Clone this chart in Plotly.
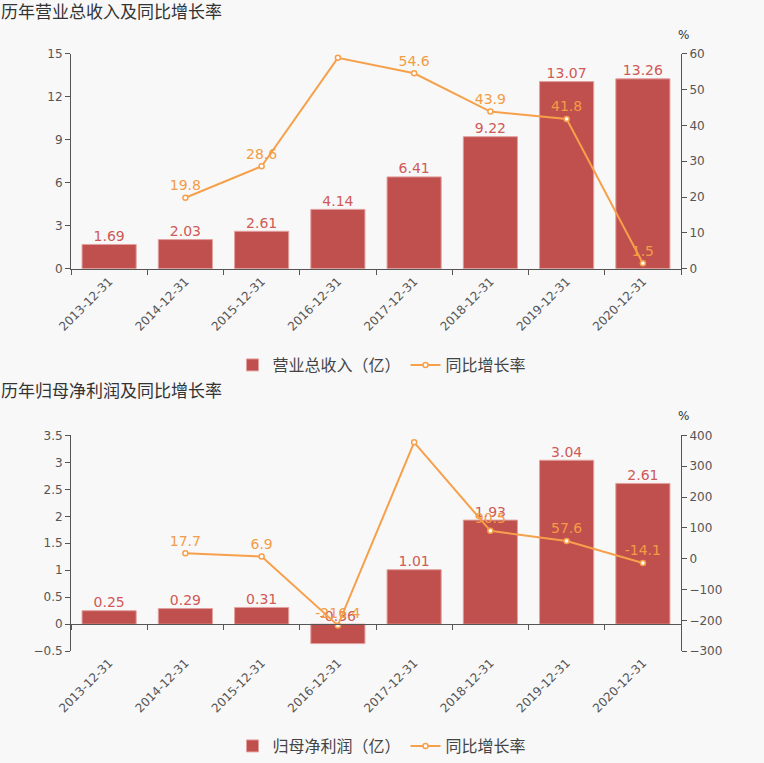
import plotly.graph_objects as go
from plotly.subplots import make_subplots

categories = ["2013-12-31", "2014-12-31", "2015-12-31", "2016-12-31",
              "2017-12-31", "2018-12-31", "2019-12-31", "2020-12-31"]
revenue = [1.69, 2.03, 2.61, 4.14, 6.41, 9.22, 13.07, 13.26]
revenue_growth = [None, 19.8, 28.6, 58.9, 54.6, 43.9, 41.8, 1.5]
profit = [0.25, 0.29, 0.31, -0.36, 1.01, 1.93, 3.04, 2.61]
profit_growth = [None, 17.7, 6.9, -216.4, 377.6, 90.5, 57.6, -14.1]

BAR = "#c0504d"
BAR_TXT = "#cf5a56"
LINE = "#f7a04b"
LINE_TXT = "#f39c45"
BG = "#f8f8f8"
AX = "#555555"
FONT = "DejaVu Sans, Noto Sans CJK SC, sans-serif"

W, H = 764, 763

def py(px):
    return 1 - px / H

fig = make_subplots(rows=2, cols=1, specs=[[{"secondary_y": True}], [{"secondary_y": True}]])

def fmt(v):
    return f"{v:.2f}"

def fmtg(v):
    return "" if v is None else f"{v:.1f}"

def add_block(row, bars, growth, bar_name, legend):
    fig.add_trace(go.Bar(x=categories, y=bars, name=bar_name,
                         marker=dict(color=BAR, line=dict(color="#e2a09e", width=1)),
                         legend=legend, hoverinfo="skip"), row=row, col=1, secondary_y=False)
    fig.add_trace(go.Scatter(x=categories, y=[max(v, 0) for v in bars], mode="text",
                             text=[fmt(v) for v in bars], textposition="top center",
                             textfont=dict(color=BAR_TXT, size=14, family=FONT),
                             showlegend=False, hoverinfo="skip"), row=row, col=1, secondary_y=False)
    fig.add_trace(go.Scatter(x=categories, y=growth, name="同比增长率", mode="lines+markers+text",
                             line=dict(color=LINE, width=2),
                             marker=dict(symbol="circle", size=5, color="white", line=dict(color=LINE, width=1.5)),
                             text=[fmtg(v) for v in growth], textposition="top center",
                             textfont=dict(color=LINE_TXT, size=14, family=FONT),
                             legend=legend, hoverinfo="skip"), row=row, col=1, secondary_y=True)

add_block(1, revenue, revenue_growth, "营业总收入（亿）", "legend")
add_block(2, profit, profit_growth, "归母净利润（亿）", "legend2")

xdom = [71 / W, 681 / W]
axis_common = dict(showgrid=False, zeroline=False, showline=True, linecolor=AX, linewidth=1,
                   ticks="outside", ticklen=5, tickcolor=AX, automargin=False,
                   tickfont=dict(color=AX, size=12, family=FONT))

fig.update_layout(
    width=W, height=H, margin=dict(l=0, r=0, t=0, b=0),
    paper_bgcolor=BG, plot_bgcolor=BG, bargap=0.29,
    font=dict(family=FONT, color="#333"),
    xaxis=dict(domain=xdom, type="category", tickson="boundaries", tickangle=-45, **axis_common),
    xaxis2=dict(domain=xdom, type="category", tickson="boundaries", tickangle=-45,
                anchor="free", position=py(625), ticklabelstandoff=26, **axis_common),
    yaxis=dict(domain=[py(269), py(54)], range=[0, 15], dtick=3, **axis_common),
    yaxis2=dict(range=[0, 60], dtick=10, **axis_common),
    yaxis3=dict(domain=[py(652), py(436)], range=[-0.5, 3.5], dtick=0.5, **axis_common),
    yaxis4=dict(range=[-300, 400], dtick=100, **axis_common),
    legend=dict(orientation="h", x=0.5, xanchor="center", y=py(365), yanchor="middle",
                bgcolor="rgba(0,0,0,0)", itemwidth=30, font=dict(size=16, color="#444", family=FONT)),
    legend2=dict(orientation="h", x=0.5, xanchor="center", y=py(747), yanchor="middle",
                 bgcolor="rgba(0,0,0,0)", itemwidth=30, font=dict(size=16, color="#444", family=FONT)),
)

titles = [("历年营业总收入及同比增长率", 12), ("历年归母净利润及同比增长率", 392)]
for t, y in titles:
    fig.add_annotation(text=t, x=0, xref="paper", xanchor="left", y=py(y), yref="paper", yanchor="middle",
                       showarrow=False, borderpad=0, font=dict(size=17, color="#333", family=FONT))
for y in [35, 417]:
    fig.add_annotation(text="%", x=683 / W, xref="paper", xanchor="center", y=py(y), yref="paper", yanchor="middle",
                       showarrow=False, font=dict(size=12, color="#333", family=FONT))

fig.write_html("out.html")
